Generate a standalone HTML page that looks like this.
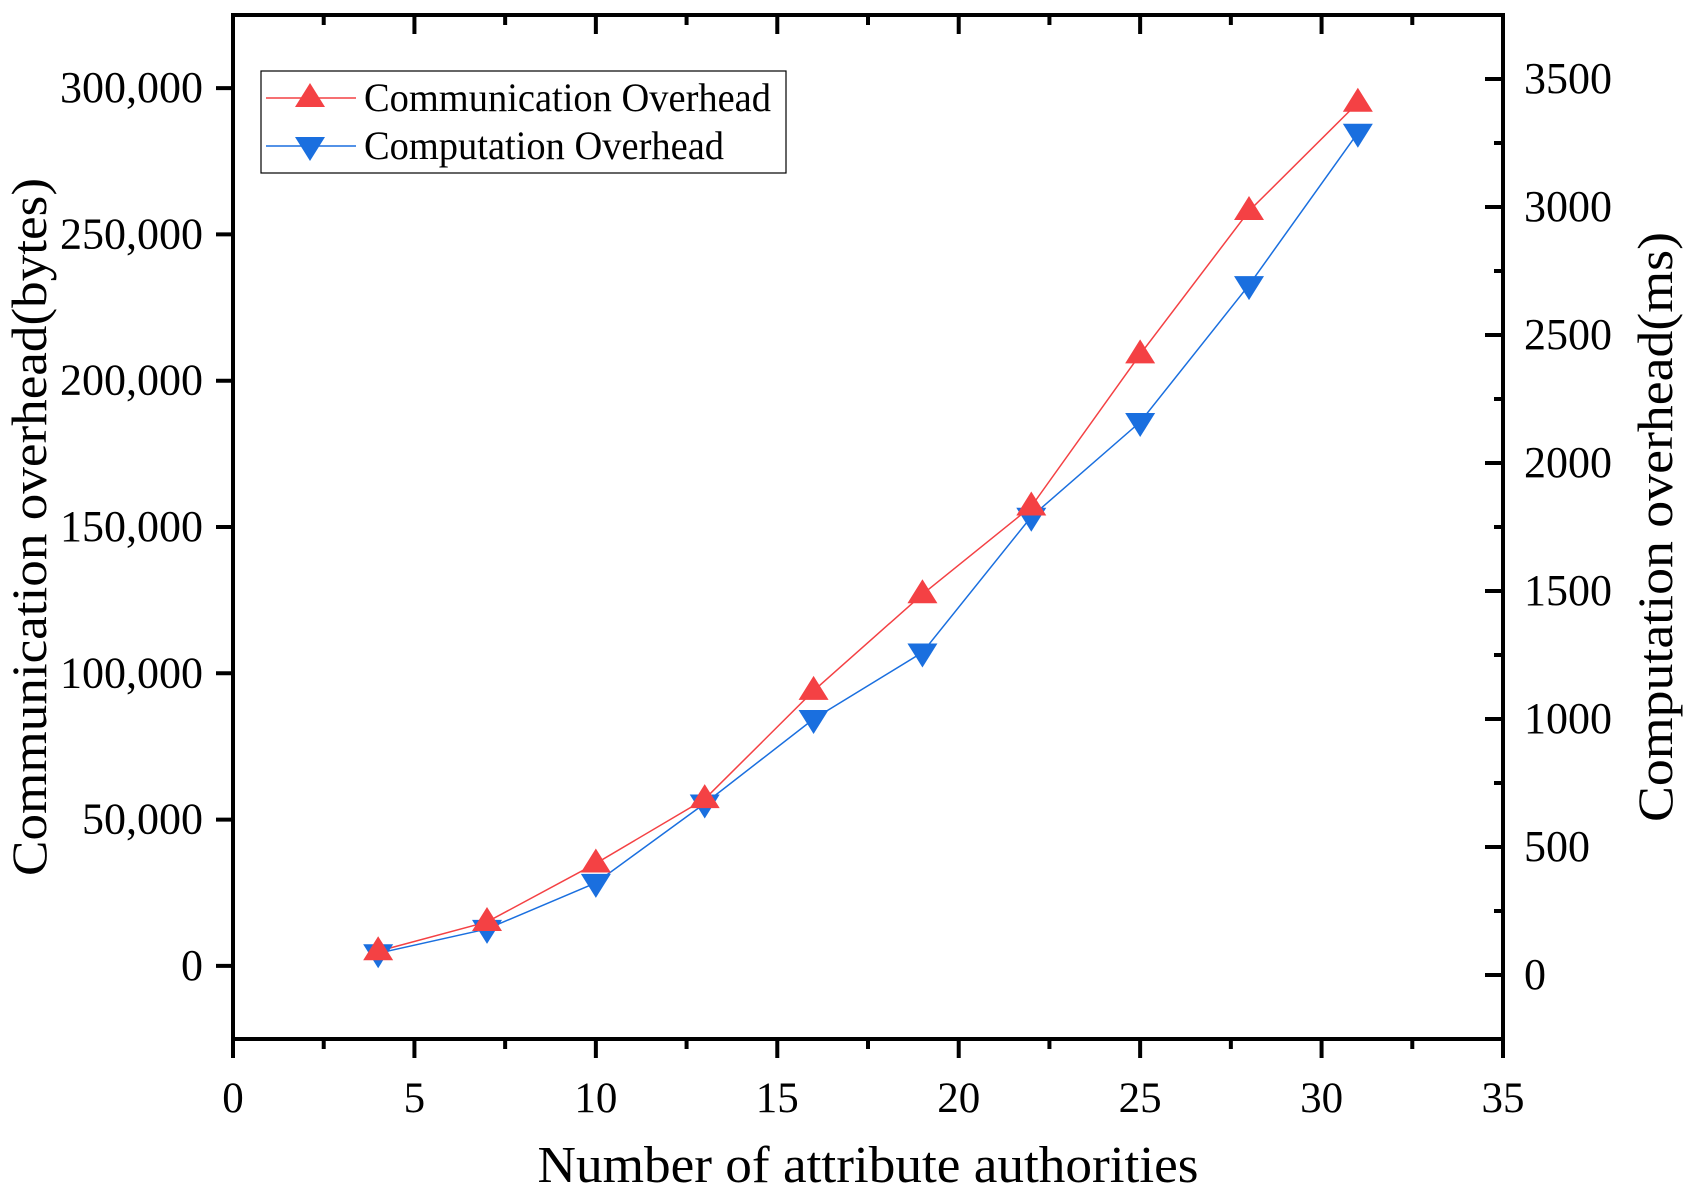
<!DOCTYPE html>
<html><head><meta charset="utf-8"><style>
html,body{margin:0;padding:0;background:#fff;}
svg text{font-family:"Liberation Serif",serif;fill:#000;}
</style></head><body>
<svg id="chart" width="1695" height="1197" viewBox="0 0 1695 1197" xmlns="http://www.w3.org/2000/svg">
<g id="g"></g>
</svg>
<script>
const xValues=[4,7,10,13,16,19,22,25,28,31];
const commBytes=[5000,15000,35000,57000,94000,127000,157000,209000,258000,295000];
const compMs=[85,180,360,670,1000,1260,1790,2160,2695,3290];
const xTicks=[0,5,10,15,20,25,30,35];
const leftTicks=[0,50000,100000,150000,200000,250000,300000];
const leftTickLabels=["0","50,000","100,000","150,000","200,000","250,000","300,000"];
const rightTicks=[0,500,1000,1500,2000,2500,3000,3500];

const L=233,R=1503,T=15,B=1039;
const xS=v=>L+(v-0)/35*(R-L);
const yL=v=>B-(v+25000)/350000*(B-T);
const yR=v=>B-(v+250)/4000*(B-T);
const NS="http://www.w3.org/2000/svg";
const g=document.getElementById('g');
function mk(tag,attrs,name,parent){const e=document.createElementNS(NS,tag);for(const k in attrs)e.setAttribute(k,attrs[k]);


(parent||g).appendChild(e);return e;}

mk('rect',{x:L,y:T,width:R-L,height:B-T,fill:'none',stroke:'#000','stroke-width':4},'plot-frame');
xTicks.forEach(v=>{const x=xS(v);
mk('line',{x1:x,y1:B,x2:x,y2:B+19,stroke:'#000','stroke-width':4},'x-tick');
mk('line',{x1:x,y1:T,x2:x,y2:T+19,stroke:'#000','stroke-width':4},'x-top-tick');
const t=mk('text',{x:x,y:1112,'font-size':43,'text-anchor':'middle'},'x-tick-label');t.textContent=v;
if(v<35){const xm=xS(v+2.5);
mk('line',{x1:xm,y1:B,x2:xm,y2:B+10,stroke:'#000','stroke-width':4},'x-minor-tick');
mk('line',{x1:xm,y1:T,x2:xm,y2:T+10,stroke:'#000','stroke-width':4},'x-top-minor-tick');}
});
leftTicks.forEach((v,i)=>{const y=yL(v);
mk('line',{x1:L-17,y1:y,x2:L,y2:y,stroke:'#000','stroke-width':4},'left-tick');
const t=mk('text',{x:203,y:y+14,'font-size':44,'text-anchor':'end'},'left-tick-label');t.textContent=leftTickLabels[i];
});
rightTicks.forEach(v=>{const y=yR(v);
mk('line',{x1:R-18,y1:y,x2:R,y2:y,stroke:'#000','stroke-width':4},'right-tick');
const t=mk('text',{x:1524,y:y+14,'font-size':44},'right-tick-label');t.textContent=v;
const ym=yR(v+250);
mk('line',{x1:R-9,y1:ym,x2:R,y2:ym,stroke:'#000','stroke-width':4},'right-minor-tick');
});
let t=mk('text',{x:868,y:1182,'font-size':52,'text-anchor':'middle',textLength:661,lengthAdjust:'spacingAndGlyphs'},'x-axis-title');t.textContent='Number of attribute authorities';
t=mk('text',{x:0,y:0,'font-size':50,'text-anchor':'middle',textLength:698,lengthAdjust:'spacingAndGlyphs',transform:'translate(46,527) rotate(-90)'},'left-axis-title');t.textContent='Communication overhead(bytes)';
t=mk('text',{x:0,y:0,'font-size':50,'text-anchor':'middle',textLength:590,lengthAdjust:'spacingAndGlyphs',transform:'translate(1672,527) rotate(-90)'},'right-axis-title');t.textContent='Computation overhead(ms)';

function up(cx,cy){return `${cx},${cy-15} ${cx+15},${cy+9} ${cx-15},${cy+9}`;}
function down(cx,cy){return `${cx-15},${cy-9} ${cx+15},${cy-9} ${cx},${cy+15}`;}
mk('polyline',{points:xValues.map((x,i)=>xS(x)+','+yL(commBytes[i])).join(' '),fill:'none',stroke:'#F44144','stroke-width':1.5},'communication-line');
mk('polyline',{points:xValues.map((x,i)=>xS(x)+','+yR(compMs[i])).join(' '),fill:'none',stroke:'#1A6FDF','stroke-width':1.5},'computation-line');
xValues.forEach((x,i)=>{mk('polygon',{points:down(xS(x),yR(compMs[i])),fill:'#1A6FDF'},'computation-point');});
xValues.forEach((x,i)=>{mk('polygon',{points:up(xS(x),yL(commBytes[i])),fill:'#F44144'},'communication-point');});

const lg=mk('g',{},'legend');
mk('rect',{x:261,y:71,width:525,height:102,fill:'#fff',stroke:'#000','stroke-width':1.2},'legend-box',lg);
mk('line',{x1:266,y1:98,x2:356,y2:98,stroke:'#F44144','stroke-width':1.5},'legend-line-communication',lg);
mk('polygon',{points:up(310,98),fill:'#F44144'},'legend-marker-communication',lg);
t=mk('text',{x:364,y:111,'font-size':40,textLength:407,lengthAdjust:'spacingAndGlyphs'},'legend-label-communication',lg);t.textContent='Communication Overhead';
mk('line',{x1:266,y1:146,x2:356,y2:146,stroke:'#1A6FDF','stroke-width':1.5},'legend-line-computation',lg);
mk('polygon',{points:down(310,146),fill:'#1A6FDF'},'legend-marker-computation',lg);
t=mk('text',{x:364,y:159,'font-size':40,textLength:360,lengthAdjust:'spacingAndGlyphs'},'legend-label-computation',lg);t.textContent='Computation Overhead';
</script>
</body></html>
